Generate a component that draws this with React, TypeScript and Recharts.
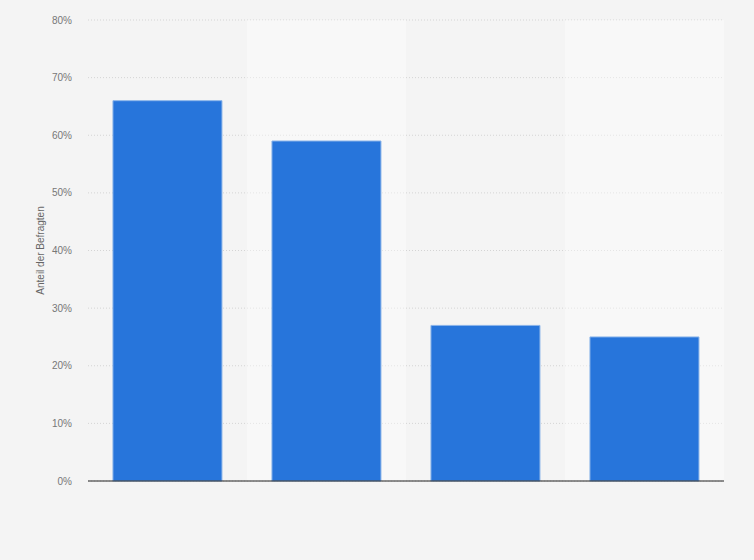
import React from "react";
import { BarChart, Bar, XAxis, YAxis, CartesianGrid, ReferenceArea } from "recharts";

const categories = ["Kategorie 1", "Kategorie 2", "Kategorie 3", "Kategorie 4"];
const values = [66, 59, 27, 25];
const yTicks = [0, 10, 20, 30, 40, 50, 60, 70, 80];
const bandCategories = ["Kategorie 2", "Kategorie 4"];

const data = categories.map((c, i) => ({ name: c, value: values[i] }));

const YLabel = (props: any) => {
  const vb = props.viewBox || {};
  const cx = 40;
  const cy = vb.y + vb.height / 2;
  return (
    <text
      x={cx}
      y={cy}
      transform={`rotate(-90, ${cx}, ${cy})`}
      textAnchor="middle"
      dominantBaseline="central"
      fill="#666"
      fontSize={10}
      fontFamily="'Liberation Sans', Arial, sans-serif"
    >
      Anteil der Befragten
    </text>
  );
};

export default function App() {
  return (
    <div
      style={{
        position: "absolute",
        left: 0,
        top: 0,
        width: 754,
        height: 560,
        background: "#f4f4f4",
        fontFamily: "'Liberation Sans', Arial, sans-serif",
      }}
    >
      <BarChart
        width={754}
        height={560}
        data={data}
        margin={{ top: 20, right: 30, bottom: 49, left: 28 }}
        barCategoryGap="15.7%"
      >
        {bandCategories.map((b) => (
          <ReferenceArea
            key={b}
            x1={b}
            x2={b}
            y1={0}
            y2={80}
            fill="#ffffff"
            fillOpacity={0.4}
            stroke="none"
            ifOverflow="extendDomain"
          />
        ))}
        <CartesianGrid
          vertical={false}
          stroke="#d4d4d4"
          strokeDasharray="1 2"
        />
        <XAxis
          dataKey="name"
          tick={false}
          tickLine={false}
          height={30}
          axisLine={{ stroke: "#222", strokeWidth: 1.2 }}
        />
        <YAxis
          domain={[0, 80]}
          ticks={yTicks}
          width={60}
          tickFormatter={(v: number) => `${v}%`}
          tick={{ fill: "#777", fontSize: 10 }}
          tickLine={false}
          axisLine={false}
          tickSize={8}
          tickMargin={8}
          interval={0}
          label={<YLabel />}
        />
        <Bar
          dataKey="value"
          fill="#2775db"
          stroke="#8ab4ea"
          strokeWidth={1}
          isAnimationActive={false}
        />
      </BarChart>
    </div>
  );
}
